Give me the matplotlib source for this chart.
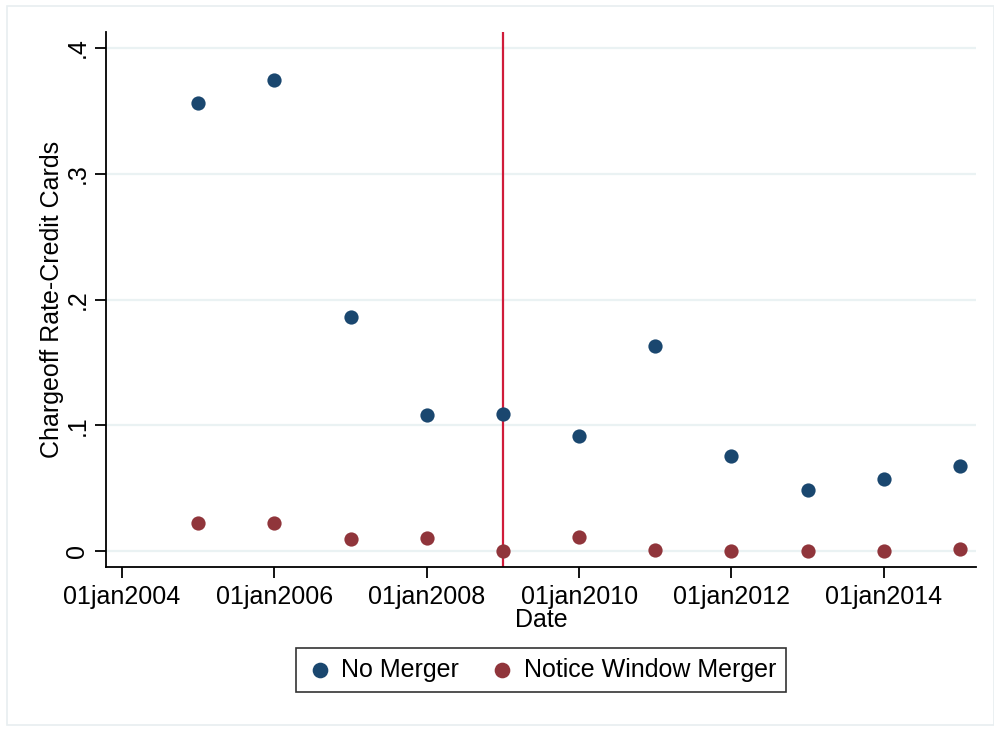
import matplotlib
matplotlib.use("Agg")
import matplotlib.pyplot as plt
import matplotlib.dates as mdates
from matplotlib.patches import Rectangle
import datetime as dt

plt.rcParams['font.family'] = ['Liberation Sans', 'DejaVu Sans']

years = [2005, 2006, 2007, 2008, 2009, 2010, 2011, 2012, 2013, 2014, 2015]
no_merger = [0.356, 0.3746, 0.186, 0.108, 0.109, 0.0915, 0.163, 0.0755, 0.0485, 0.057, 0.0676]
notice_merger = [0.0223, 0.0223, 0.0095, 0.0103, 0.0, 0.0111, 0.0008, 0.0004, 0.0, 0.0, 0.0016]
tick_years = [2004, 2006, 2008, 2010, 2012, 2014]
y_ticks = [0, 0.1, 0.2, 0.3, 0.4]
y_tick_labels = ["0", ".1", ".2", ".3", ".4"]
event_year = 2009

dates = [dt.date(y, 1, 1) for y in years]
blue, red = "#1a476f", "#90353b"

fig = plt.figure(figsize=(9.95, 7.3), dpi=100)
W, H = 995, 730
ax = fig.add_axes([106 / W, 1 - 567 / H, (976 - 106) / W, (567 - 32) / H])

# light outer frame like Stata's graph region
fig.patches.append(Rectangle((7 / W, 5 / H), (994 - 7) / W, (724 - 5) / H,
                             transform=fig.transFigure, fill=False,
                             edgecolor="#e8eef0", lw=1.2))

for yv in y_ticks:
    ax.axhline(yv, color="#eaf2f3", lw=1.6, zorder=0)

ax.axvline(mdates.date2num(dt.date(event_year, 1, 1)), color="#d01c3a", lw=1.6, zorder=1)

ax.scatter(dates, no_merger, s=105, color=blue, zorder=3, label="No Merger", linewidths=0)
ax.scatter(dates, notice_merger, s=105, color=red, zorder=3, label="Notice Window Merger",
           linewidths=0)

x0 = mdates.date2num(dt.date(2004, 1, 1)) - 77
x1 = mdates.date2num(dt.date(2015, 1, 1)) + 77
ax.set_xlim(x0, x1)
ax.set_ylim(-0.0127, 0.4127)

ax.set_xticks([mdates.date2num(dt.date(y, 1, 1)) for y in tick_years])
ax.xaxis.set_major_formatter(mdates.DateFormatter("01jan%Y"))
ax.set_yticks(y_ticks)
ax.set_yticklabels(y_tick_labels, rotation=90, va="center")

for sp in ["top", "right"]:
    ax.spines[sp].set_visible(False)
for sp in ["left", "bottom"]:
    ax.spines[sp].set_linewidth(1.3)
ax.tick_params(axis="both", labelsize=18, length=8, width=1.3, color="black")
ax.tick_params(axis="x", pad=5)
ax.tick_params(axis="y", pad=4)

ax.set_xlabel("Date", fontsize=18, labelpad=-1)
ax.set_ylabel("Chargeoff Rate-Credit Cards", fontsize=18, labelpad=1)

leg = ax.legend(loc="upper center", bbox_to_anchor=(0.5, -0.128), ncol=2, fontsize=18,
                frameon=True, fancybox=False, edgecolor="black", borderpad=0.4,
                handletextpad=0.3, columnspacing=1.2, handlelength=1.1, markerscale=1.1)
leg.get_frame().set_linewidth(1.2)

fig.savefig("out.png", dpi=100)
